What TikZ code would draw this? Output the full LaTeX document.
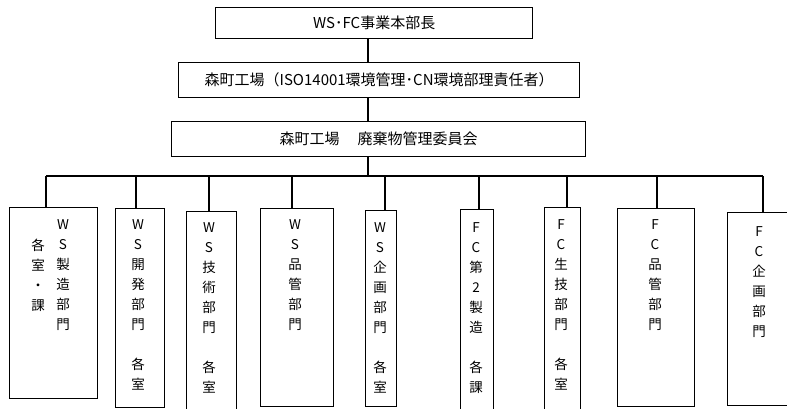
\documentclass[tikz,border=0pt]{standalone}
\usepackage{fontspec}
\setmainfont{Noto Sans CJK JP}
\usetikzlibrary{positioning}
\begin{document}
\begin{tikzpicture}[x=1pt,y=-1pt,
  box/.style={draw,line width=1.3pt,inner sep=0pt,anchor=north west},
  headbox/.style={box,font=\fontsize{15}{17}\selectfont},
  vtext/.style={anchor=north,align=center,inner sep=0pt,font=\fontsize{13.5}{20}\selectfont},
  conn/.style={line width=1.3pt}]
  \useasboundingbox (0,0) rectangle (787,408);
  % top of the chart
  \node[headbox,minimum width=317pt,minimum height=31pt] (head) at (215,7) {WS･FC事業本部長};
  \node[headbox,minimum width=401pt,minimum height=35pt] (plant) at (178,62) {森町工場（ISO14001環境管理･CN環境部理責任者）};
  \node[headbox,minimum width=414pt,minimum height=35pt] (comm) at (171,121) {森町工場\hspace{1.2em}廃棄物管理委員会};
  \coordinate (trunk) at (368,176);
  \draw[conn] (head.south -| trunk) -- (plant.north -| trunk);
  \draw[conn] (plant.south -| trunk) -- (comm.north -| trunk);
  \draw[conn] (comm.south -| trunk) -- (trunk);
  % bus
  \coordinate (b1) at (46,176);
  \coordinate (b2) at (136,176);
  \coordinate (b3) at (209,176);
  \coordinate (b4) at (292,176);
  \coordinate (b5) at (385,176);
  \coordinate (b6) at (479,176);
  \coordinate (b7) at (567,176);
  \coordinate (b8) at (657,176);
  \coordinate (b9) at (763,176);
  \draw[conn] (b1) -- (b9);
  % departments
  \node[box,minimum width=88pt,minimum height=191pt] (wsmfg) at (9,207) {};
  \node[box,minimum width=49pt,minimum height=199pt] (wsdev) at (115,208) {};
  \node[box,minimum width=50pt,minimum height=205pt] (wstech) at (186,211) {};
  \node[box,minimum width=73pt,minimum height=198pt] (wsqa) at (260,208) {};
  \node[box,minimum width=31pt,minimum height=196pt] (wsplan) at (365,210) {};
  \node[box,minimum width=33pt,minimum height=205pt] (fcmfg) at (460,209) {};
  \node[box,minimum width=36pt,minimum height=205pt] (fceng) at (544,207) {};
  \node[box,minimum width=77pt,minimum height=198pt] (fcqa) at (617,208) {};
  \node[box,minimum width=80pt,minimum height=193pt] (fcplan) at (727,212) {};
  \draw[conn] (b1) -- (b1 |- wsmfg.north);
  \draw[conn] (b2) -- (b2 |- wsdev.north);
  \draw[conn] (b3) -- (b3 |- wstech.north);
  \draw[conn] (b4) -- (b4 |- wsqa.north);
  \draw[conn] (b5) -- (b5 |- wsplan.north);
  \draw[conn] (b6) -- (b6 |- fcmfg.north);
  \draw[conn] (b7) -- (b7 |- fceng.north);
  \draw[conn] (b8) -- (b8 |- fcqa.north);
  \draw[conn] (b9) -- (b9 |- fcplan.north);
  % vertical texts
  \node[vtext] (twsmfg) at (63,219) {W\\S\\製\\造\\部\\門};
  \node[vtext] (twsmfgb) at (38,239) {各\\室\\・\\課};
  \node[vtext] (twsdev) at (138,219) {W\\S\\開\\発\\部\\門\\\mbox{}\\各\\室};
  \node[vtext] (twstech) at (209,222) {W\\S\\技\\術\\部\\門\\\mbox{}\\各\\室};
  \node[vtext] (twsqa) at (295,219) {W\\S\\品\\管\\部\\門};
  \node[vtext] (twsplan) at (380,222) {W\\S\\企\\画\\部\\門\\\mbox{}\\各\\室};
  \node[vtext] (tfcmfg) at (476,222) {F\\C\\第\\2\\製\\造\\\mbox{}\\各\\課};
  \node[vtext] (tfceng) at (561,219) {F\\C\\生\\技\\部\\門\\\mbox{}\\各\\室};
  \node[vtext] (tfcqa) at (655,219) {F\\C\\品\\管\\部\\門};
  \node[vtext] (tfcplan) at (759,226) {F\\C\\企\\画\\部\\門};
\end{tikzpicture}
\end{document}
